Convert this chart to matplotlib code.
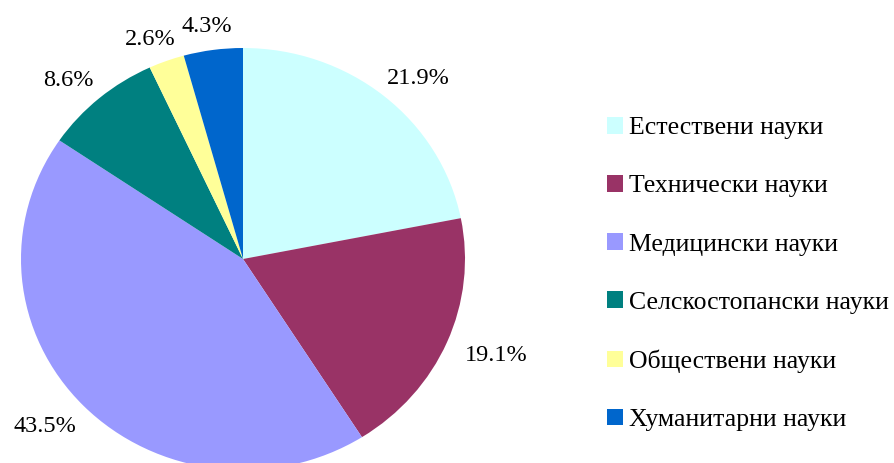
import matplotlib
matplotlib.use("Agg")
import numpy as np
import matplotlib.pyplot as plt
from matplotlib.patches import Patch

categories = ["Естествени науки", "Технически науки", "Медицински науки",
              "Селскостопански науки", "Обществени науки", "Хуманитарни науки"]
values = [21.9, 19.1, 43.5, 8.6, 2.6, 4.3]
colors = ["#CCFFFF", "#993366", "#9999FF", "#008080", "#FFFF99", "#0066CC"]

plt.rcParams['font.family'] = ['Liberation Serif', 'DejaVu Serif']

W, H = 894, 463
fig = plt.figure(figsize=(W / 100, H / 100), dpi=100)
cx, cy, rx, ry = 243, 259, 222, 211
ax = fig.add_axes([(cx - rx) / W, (H - cy - ry) / H, 2 * rx / W, 2 * ry / H])
wedges, _ = ax.pie(values, colors=colors, startangle=90, counterclock=False,
                   radius=1)
ax.set_aspect('auto')
ax.set_xlim(-1, 1)
ax.set_ylim(-1, 1)
ax.axis('off')

# percentage labels placed just outside each wedge
fig.canvas.draw()
renderer = fig.canvas.get_renderer()
fs = 17.5
digit_h = fs * 100 / 72 * 0.68
for w, v in zip(wedges, values):
    theta = np.deg2rad((w.theta1 + w.theta2) / 2)
    c, s = np.cos(theta), np.sin(theta)
    t = ax.text(0, 0, f"{v:.1f}%", fontsize=fs, ha='center', va='baseline')
    bb = t.get_window_extent(renderer)
    wpx = bb.width
    xc = 1.10 * c + (wpx / 2 * c) / rx
    yc = 1.085 * s + (digit_h / 2 * s) / ry
    t.set_position((xc, yc - (digit_h / 2) / ry))

handles = [Patch(facecolor=c, edgecolor='none') for c in colors]
fig.legend(handles, categories, loc='center left',
           bbox_to_anchor=(607 / W, (H - 274) / H), frameon=False,
           fontsize=18.5, handlelength=0.62, handleheight=0.62,
           handletextpad=0.23, labelspacing=1.39, borderaxespad=0,
           borderpad=0)

fig.savefig("out.png", dpi=100)
